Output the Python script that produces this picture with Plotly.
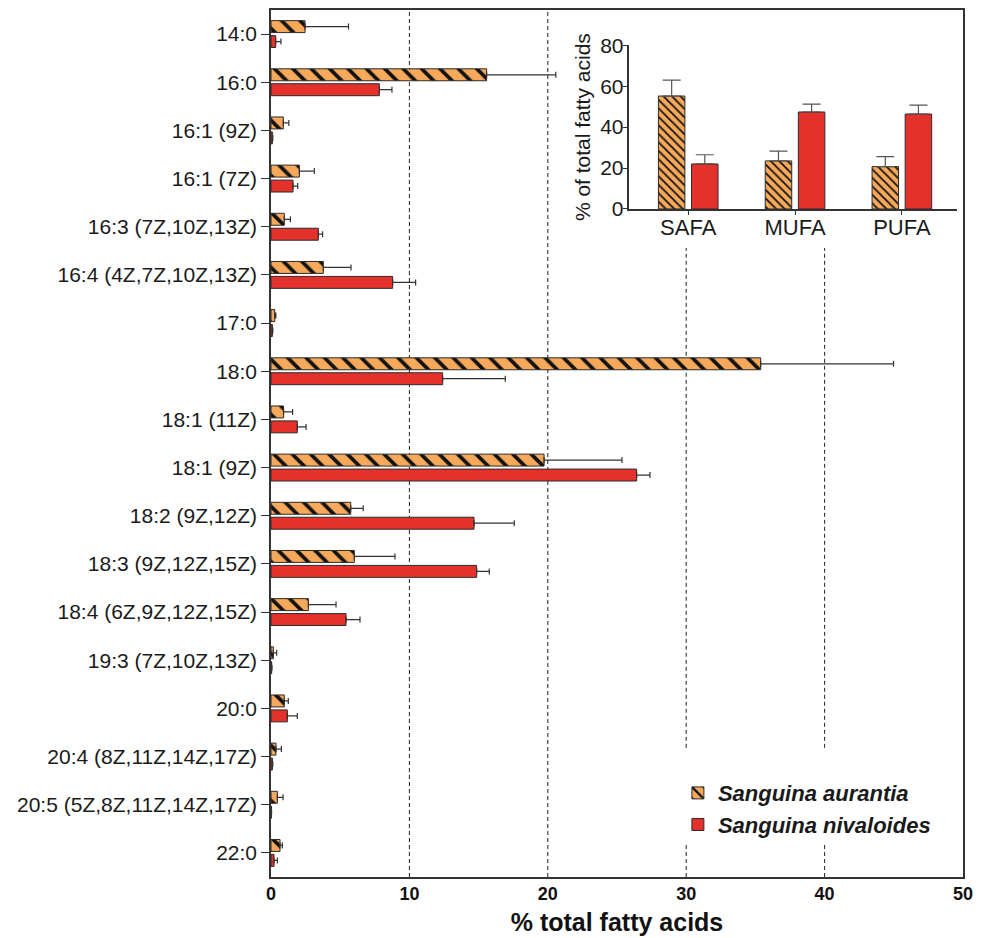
import plotly.graph_objects as go

# ---------------- data ----------------
fatty_acids = ["14:0", "16:0", "16:1 (9Z)", "16:1 (7Z)", "16:3 (7Z,10Z,13Z)",
               "16:4 (4Z,7Z,10Z,13Z)", "17:0", "18:0", "18:1 (11Z)", "18:1 (9Z)",
               "18:2 (9Z,12Z)", "18:3 (9Z,12Z,15Z)", "18:4 (6Z,9Z,12Z,15Z)",
               "19:3 (7Z,10Z,13Z)", "20:0", "20:4 (8Z,11Z,14Z,17Z)",
               "20:5 (5Z,8Z,11Z,14Z,17Z)", "22:0"]

aurantia_mean = [2.46, 15.58, 0.89, 2.05, 0.96, 3.78, 0.27, 35.38, 0.91, 19.73,
                 5.76, 6.02, 2.70, 0.17, 0.96, 0.36, 0.46, 0.65]
aurantia_sd = [3.14, 5.00, 0.40, 1.08, 0.44, 2.00, 0.08, 9.60, 0.65, 5.63,
               0.90, 2.94, 2.00, 0.24, 0.29, 0.39, 0.41, 0.17]

nivaloides_mean = [0.34, 7.83, 0.10, 1.59, 3.42, 8.79, 0.10, 12.40, 1.90, 26.42,
                   14.67, 14.86, 5.42, 0.05, 1.18, 0.10, 0.03, 0.22]
nivaloides_sd = [0.38, 0.91, 0.03, 0.34, 0.31, 1.66, 0.03, 4.53, 0.63, 0.96,
                 2.91, 0.91, 1.01, 0.02, 0.72, 0.03, 0.01, 0.24]

classes = ["SAFA", "MUFA", "PUFA"]
aurantia_class_mean = [55.2, 23.5, 20.7]
aurantia_class_sd = [7.8, 4.8, 4.9]
nivaloides_class_mean = [22.0, 47.4, 46.4]
nivaloides_class_sd = [4.5, 3.8, 4.4]

x_ticks = [0, 10, 20, 30, 40, 50]
inset_y_ticks = [0, 20, 40, 60, 80]

# ---------------- styles ----------------
ORANGE = "#F6A95A"
RED = "#E5312B"
EDGE = "#2b2b2b"
AX = "#333333"
FONT = "Liberation Sans, Arial, sans-serif"

fig = go.Figure()

fig.add_trace(go.Bar(
    y=fatty_acids, x=aurantia_mean, orientation="h", name="Sanguina aurantia",
    marker=dict(color=ORANGE, line=dict(color=EDGE, width=1),
                pattern=dict(shape="\\", fgcolor="#111111", bgcolor=ORANGE,
                             size=13, solidity=0.28, fillmode="replace")),
    error_x=dict(type="data", symmetric=False, array=aurantia_sd,
                 arrayminus=[0] * len(aurantia_sd), color=AX, thickness=1.2, width=3),
    xaxis="x", yaxis="y"))

fig.add_trace(go.Bar(
    y=fatty_acids, x=nivaloides_mean, orientation="h", name="Sanguina nivaloides",
    marker=dict(color=RED, line=dict(color=EDGE, width=1)),
    error_x=dict(type="data", symmetric=False, array=nivaloides_sd,
                 arrayminus=[0] * len(nivaloides_sd), color=AX, thickness=1.2, width=3),
    xaxis="x", yaxis="y"))

# inset
fig.add_trace(go.Bar(
    x=classes, y=aurantia_class_mean, showlegend=False,
    marker=dict(color=ORANGE, line=dict(color=EDGE, width=1),
                pattern=dict(shape="\\", fgcolor="#111111", bgcolor=ORANGE,
                             size=6, solidity=0.3, fillmode="replace")),
    error_y=dict(type="data", symmetric=False, array=aurantia_class_sd,
                 arrayminus=[0] * 3, color="#555555", thickness=1.2, width=9),
    xaxis="x2", yaxis="y2"))

fig.add_trace(go.Bar(
    x=classes, y=nivaloides_class_mean, showlegend=False,
    marker=dict(color=RED, line=dict(color=EDGE, width=1)),
    error_y=dict(type="data", symmetric=False, array=nivaloides_class_sd,
                 arrayminus=[0] * 3, color="#555555", thickness=1.2, width=9),
    xaxis="x2", yaxis="y2"))

# dashed reference lines (hidden behind inset and legend as in the original)
shapes = []
dash_style = dict(color="#222222", width=1, dash="4px,3px")
for v in [10, 20]:
    shapes.append(dict(type="line", xref="x", yref="paper", x0=v, x1=v,
                       y0=0, y1=1, line=dash_style, layer="below"))
for v in [30, 40]:
    for (a, b) in [(0, 0.038), (0.149, 0.7255)]:
        shapes.append(dict(type="line", xref="x", yref="paper", x0=v, x1=v,
                           y0=a, y1=b, line=dash_style, layer="below"))

fig.update_layout(
    width=989, height=938,
    margin=dict(l=271, r=26, t=10, b=61, autoexpand=False),
    paper_bgcolor="white", plot_bgcolor="white",
    barmode="group", bargap=0.38, bargroupgap=0.2,
    font=dict(family=FONT, color="#1a1a1a"),
    shapes=shapes,
    xaxis=dict(range=[0, 50], tickvals=x_ticks, showgrid=False, zeroline=False,
               automargin=False,
               showline=True, mirror=True, linecolor=AX, linewidth=1.5, ticks="",
               tickfont=dict(size=18, weight="bold", family=FONT, color="#111"),
               title=dict(text="% total fatty acids", standoff=10,
                          font=dict(size=25, weight="bold", family=FONT, color="#111"))),
    yaxis=dict(type="category", categoryorder="array", categoryarray=fatty_acids,
               autorange="reversed", showgrid=False, zeroline=False, automargin=False,
               showline=True, mirror=True, linecolor=AX, linewidth=1.5,
               ticks="outside", ticklen=8, tickcolor=AX, tickwidth=1.2,
               tickfont=dict(size=21, family=FONT, color="#1a1a1a")),
    xaxis2=dict(domain=[0.518, 0.991], anchor="y2", type="category", automargin=False,
                range=[-0.55, 2.514], showgrid=False, zeroline=False,
                showline=True, linecolor=AX, linewidth=1.5,
                ticks="outside", ticklen=4, tickcolor=AX, tickwidth=1.2,
                ticklabelstandoff=-6,
                tickfont=dict(size=22, family=FONT, color="#1a1a1a")),
    yaxis2=dict(domain=[0.7705, 0.9593], anchor="x2", range=[0, 80], automargin=False,
                tickvals=inset_y_ticks, showgrid=False, zeroline=False,
                showline=True, linecolor=AX, linewidth=1.5,
                ticks="outside", ticklen=5, tickcolor=AX, tickwidth=1.2,
                ticklabelstandoff=-5,
                tickfont=dict(size=21, family=FONT, color="#1a1a1a"),
                title=dict(text="% of total fatty acids", standoff=4,
                           font=dict(size=21, family=FONT, color="#1a1a1a"))),
    legend=dict(x=0.588, y=0.121, xanchor="left", yanchor="top",
                bgcolor="rgba(0,0,0,0)",
                font=dict(size=22, family=FONT, style="italic", weight="bold",
                          color="#1a1a1a")),
)

fig.write_html("out.html", config={"displayModeBar": False},
               post_script="document.body.style.margin='0px';")
